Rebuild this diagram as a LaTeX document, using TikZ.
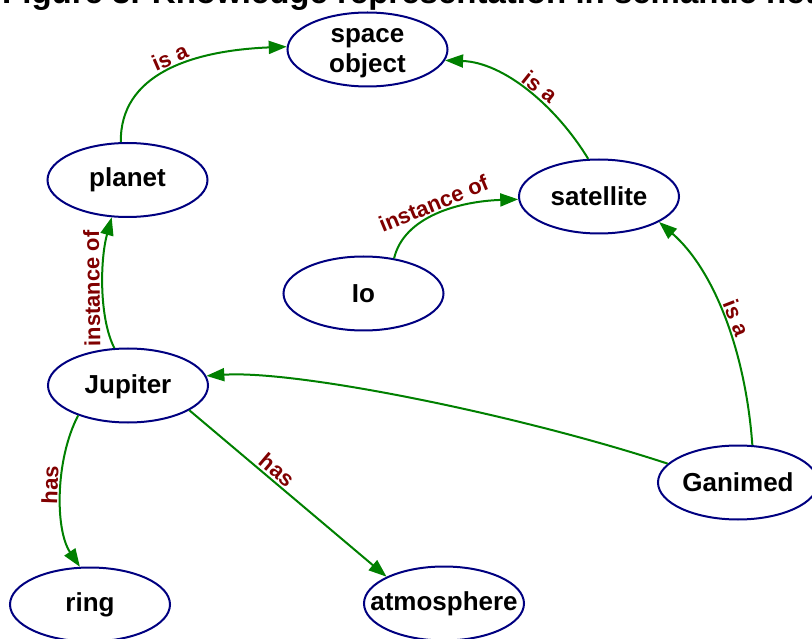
\documentclass[tikz,border=0pt]{standalone}
\usepackage{fontspec}
\setmainfont{Liberation Sans}
\usetikzlibrary{shapes.geometric,arrows.meta}
\definecolor{edgegreen}{RGB}{0,128,0}
\definecolor{nodeblue}{RGB}{0,0,128}
\definecolor{labelred}{RGB}{128,0,0}
\begin{document}
\begin{tikzpicture}[x=1pt,y=-1pt,
  concept/.style={ellipse, draw=nodeblue, fill=white, line width=2pt,
    minimum width=160pt, minimum height=74pt, inner sep=0pt},
  ctext/.style={font=\fontsize{26}{30}\selectfont\bfseries, align=center, inner sep=0pt},
  rel/.style={draw=edgegreen, line width=2pt, -{Triangle[length=18pt,width=13pt]}},
  rlabel/.style={font=\fontsize{22}{24}\selectfont\bfseries, text=labelred,
    sloped, above, inner sep=2pt}]
\useasboundingbox (0,0) rectangle (812,639);
\clip (0,0) rectangle (812,639);

% caption line
\node[font=\fontsize{33}{36}\selectfont\bfseries, anchor=base west, inner sep=0pt]
  (title) at (2,4) {Figure 3. Knowledge representation in semantic network};

% concepts
\node[concept, label={[ctext, yshift=-4pt]center:{space\\object}}] (space) at (367.5,49.5) {};
\node[concept, label={[ctext]center:planet}] (planet) at (127.5,180) {};
\node[concept, label={[ctext]center:satellite}] (satellite) at (599,196.5) {};
\node[concept, label={[ctext]center:Io}] (io) at (363.5,293.5) {};
\node[concept, label={[ctext, yshift=-1.5pt]center:Jupiter}] (jupiter) at (128,385.5) {};
\node[concept, label={[ctext]center:Ganimed}] (ganimed) at (738,482.5) {};
\node[concept, label={[ctext]center:ring}] (ring) at (90,604.5) {};
\node[concept, label={[ctext]center:atmosphere}] (atmosphere) at (444,603.5) {};

% relations
\draw[rel] (planet.100) .. controls +(-1,-67) and +(-97,4) .. (space.178)
  node[rlabel, pos=0.54] (l1) {is a};
\draw[rel] (satellite.106) .. controls +(-33,-54) and +(58,2) .. (space.352)
  node[rlabel, pos=0.45] (l2) {is a};
\draw[rel] (io.49) .. controls +(10,-42) and +(-59,2) .. (satellite.182)
  node[rlabel, pos=0.5] (l3) {instance of};
\draw[rel] (jupiter.110) .. controls +(-15,-29) and +(-12,44) .. (planet.247)
  node[rlabel, allow upside down, pos=0.5] (l4) {instance of};
\draw[rel] (ganimed.165) .. controls +(-146,-48) and +(92,-6) .. (jupiter.7);
\draw[rel] (ganimed.69) .. controls +(-7,-96) and +(54,47) .. (satellite.337)
  node[rlabel, pos=0.47] (l6) {is a};
\draw[rel] (jupiter.211) .. controls +(-23,44) and +(-25,-37) .. (ring.105)
  node[rlabel, pos=0.45] (l7) {has};
\draw[rel] (jupiter.338) -- (atmosphere.155)
  node[rlabel, pos=0.41] (l8) {has};
\end{tikzpicture}
\end{document}
